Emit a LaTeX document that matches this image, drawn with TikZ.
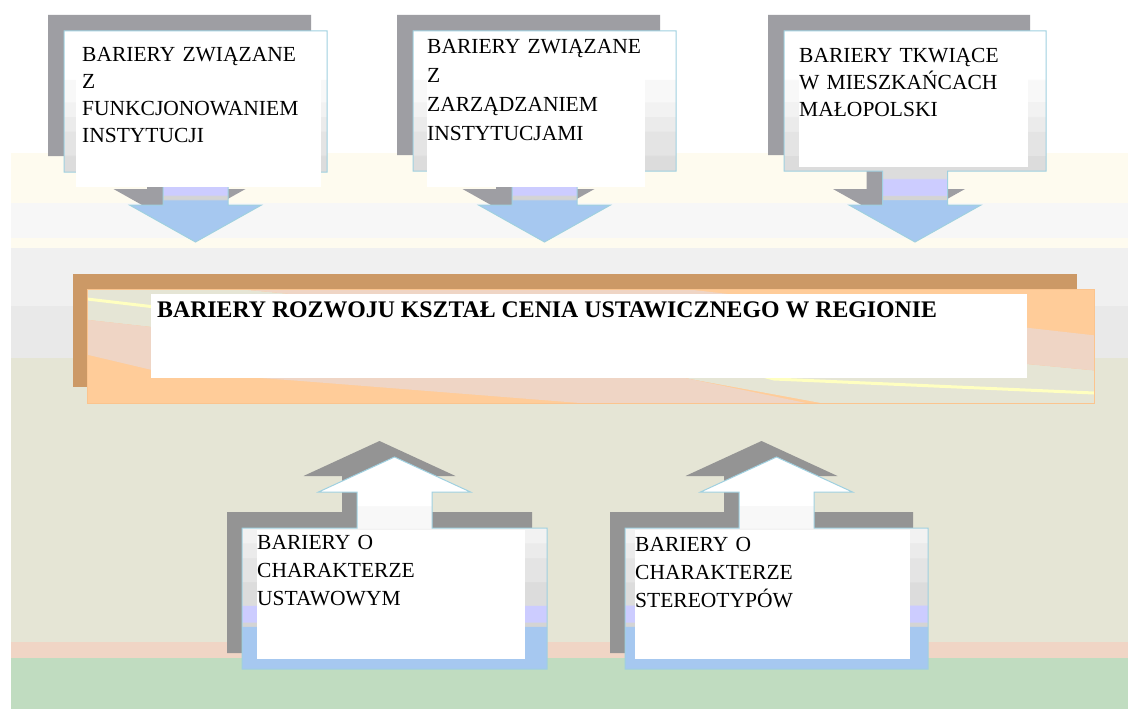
\documentclass[tikz,border=0pt]{standalone}
\usepackage{fontspec}
\setmainfont{Liberation Serif}
\definecolor{cblue}{HTML}{A6C8F0}
\definecolor{clav}{HTML}{CCCCFF}
\definecolor{cga}{HTML}{F8F8F8}
\definecolor{cgb}{HTML}{F2F2F2}
\definecolor{cgc}{HTML}{EBEBEB}
\definecolor{cgd}{HTML}{E4E4E4}
\definecolor{cge}{HTML}{DCDCDC}
\definecolor{cgf}{HTML}{D4D4D4}
\definecolor{shadowtop}{HTML}{9E9EA3}
\definecolor{shadowbot}{HTML}{949494}
\definecolor{cborder}{HTML}{9FD0E0}
\definecolor{bgcream}{HTML}{FEFBEF}
\definecolor{bggrA}{HTML}{F7F7F7}
\definecolor{bggrB}{HTML}{F0F0F0}
\definecolor{bggrC}{HTML}{E9E9E9}
\definecolor{bgbeige}{HTML}{E5E5D5}
\definecolor{bgpink}{HTML}{F0D5C5}
\definecolor{bggreen}{HTML}{C0DCC0}
\definecolor{tan}{HTML}{CC9966}
\definecolor{peach}{HTML}{FFCC99}
\definecolor{peachedge}{HTML}{FBC48E}
\definecolor{bandpink}{HTML}{EFD5C5}
\definecolor{bandgreen}{HTML}{E5E5D5}
\definecolor{bandyellow}{HTML}{FFFFC0}
\pgfdeclareverticalshading{calloutshade}{100bp}{%
color(0bp)=(cblue); color(35bp)=(cblue);
color(35.1bp)=(cgf); color(36bp)=(cgf);
color(36.1bp)=(clav); color(40bp)=(clav);
color(40.1bp)=(cge); color(45.5bp)=(cge);
color(45.6bp)=(cgd); color(51.2bp)=(cgd);
color(51.3bp)=(cgc); color(54.7bp)=(cgc);
color(54.8bp)=(cgb); color(58.2bp)=(cgb);
color(58.3bp)=(cga); color(63.5bp)=(cga);
color(63.6bp)=(white); color(100bp)=(white)}
% #1 L, #2 R, #3 far edge, #4 arrow edge, #5 shaft half width, #6 head base, #7 head half width, #8 tip
\newcommand\calloutpath[8]{(#1,#3) -- (#2,#3) -- (#2,#4) -- ({(#1+#2)/2+#5},#4) -- ({(#1+#2)/2+#5},#6) -- ({(#1+#2)/2+#7},#6) -- ({(#1+#2)/2},#8) -- ({(#1+#2)/2-#7},#6) -- ({(#1+#2)/2-#5},#6) -- ({(#1+#2)/2-#5},#4) -- (#1,#4) -- cycle}
\tikzset{
  calloutbody/.style={shading=calloutshade, draw=cborder, line width=1pt},
  whitepanel/.style={fill=white, draw=none},
  boxtext/.style={anchor=base west, inner sep=0pt, align=left, text=black, text width=300pt},
}
\begin{document}
\begin{tikzpicture}[x=1pt,y=-1pt]
\useasboundingbox (0,0) rectangle (1128,709);
% background bands
\fill[white] (0,0) rectangle (1128,709);
\fill[bgcream] (11,153) rectangle (1128,203);
\fill[bggrA] (11,203) rectangle (1128,238);
\fill[bgcream] (11,238) rectangle (1128,248);
\fill[bggrB] (11,248) rectangle (1128,306);
\fill[bggrC] (11,306) rectangle (1128,358);
\fill[bgbeige] (11,358) rectangle (1128,642);
\fill[bgpink] (11,642) rectangle (1128,658);
\fill[bggreen] (11,658) rectangle (1128,709);

% ---- top callouts ----
\fill[shadowtop, shift={(-16,-16)}] \calloutpath{64}{327}{31}{172}{32.5}{205}{66}{242};
\path[calloutbody] \calloutpath{64}{327}{31}{172}{32.5}{205}{66}{242};
\fill[whitepanel] (76,33) rectangle (321,187);
\node[boxtext, font=\fontsize{21.5}{26.7}\selectfont] (t1) at (82,62) {BARIERY ZWIĄZANE\\Z\\FUNKCJONOWANIEM\\INSTYTUCJI};

\fill[shadowtop, shift={(-16,-16)}] \calloutpath{413}{676}{31}{171}{32.5}{205}{66}{242};
\path[calloutbody] \calloutpath{413}{676}{31}{171}{32.5}{205}{66}{242};
\fill[whitepanel] (427,33) rectangle (645,187);
\node[boxtext, font=\fontsize{21.5}{28.7}\selectfont] (t2) at (427,54) {BARIERY ZWIĄZANE\\Z\\ZARZĄDZANIEM\\INSTYTUCJAMI};

\fill[shadowtop, shift={(-16,-16)}] \calloutpath{784}{1046}{31}{171}{32.5}{205}{66}{242};
\path[calloutbody] \calloutpath{784}{1046}{31}{171}{32.5}{205}{66}{242};
\fill[whitepanel] (799,33) rectangle (1028,167);
\node[boxtext, font=\fontsize{21.5}{27}\selectfont] (t3) at (799,63) {BARIERY TKWIĄCE\\W MIESZKAŃCACH\\MAŁOPOLSKI};

% ---- central banner ----
\fill[tan] (73,274) rectangle (1077,387);
\begin{scope}
\clip (87,289) rectangle (1094,403);
\fill[peach] (87,289) rectangle (1094,403);
\fill[bandgreen] (80,274) -- (1100,371) -- (1100,410) -- (840,410) -- (821,403) -- (685,378) -- (152,327) -- (80,319) -- cycle;
\fill[bandpink] (80,319) -- (152,327) -- (685,378) -- (840,410) -- (590,410) -- (580,403) -- (301,381) -- (152,370) -- (80,353) -- cycle;
\fill[bandpink] (80,274) -- (1100,371) -- (1100,336) -- (640,284) -- cycle;
\draw[bandyellow, line width=3pt] (87,299) -- (155,307) -- (700,360) -- (774,379) -- (1094,393);
\end{scope}
\draw[peachedge, line width=1pt] (87,289) rectangle (1094,403);
\fill[whitepanel] (151,294) rectangle (1027,378);
\node[anchor=base west, inner sep=0pt, font=\bfseries\fontsize{23.8}{28}\selectfont] (main) at (157,317) {BARIERY ROZWOJU KSZTAŁ CENIA USTAWICZNEGO W REGIONIE};

% ---- bottom callouts ----
\fill[shadowbot, shift={(-15,-16)}] \calloutpath{242}{547}{669}{528}{37.5}{492}{76}{457};
\path[calloutbody] \calloutpath{242}{547}{669}{528}{37.5}{492}{76}{457};
\fill[whitepanel] (257,530) rectangle (525,659);
\node[boxtext, font=\fontsize{21.5}{28}\selectfont] (t4) at (257,549) {BARIERY O\\CHARAKTERZE\\USTAWOWYM};

\fill[shadowbot, shift={(-15,-16)}] \calloutpath{625}{928}{669}{528}{37.5}{492}{76}{457};
\path[calloutbody] \calloutpath{625}{928}{669}{528}{37.5}{492}{76}{457};
\fill[whitepanel] (635,530) rectangle (910,659);
\node[boxtext, font=\fontsize{21.5}{28}\selectfont] (t5) at (635,551) {BARIERY O\\CHARAKTERZE\\STEREOTYPÓW};
\end{tikzpicture}
\end{document}
